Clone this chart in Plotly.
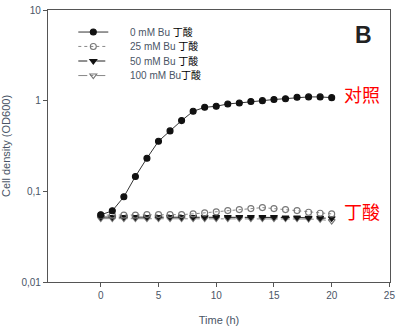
import math
import plotly.graph_objects as go

time_h = list(range(0, 21))
od_0mM = [0.055, 0.061, 0.087, 0.146, 0.232, 0.357, 0.464, 0.603, 0.763, 0.845, 0.867,
          0.92, 0.944, 0.98, 1.0, 1.03, 1.05, 1.09, 1.1, 1.1, 1.08]
od_25mM = [0.0546, 0.0546, 0.0546, 0.0546, 0.0554, 0.0554, 0.0554, 0.0554, 0.0564, 0.0578, 0.0593,
           0.0613, 0.0629, 0.0645, 0.0662, 0.0645, 0.0629, 0.0613, 0.0588, 0.0573, 0.0564]
od_50mM = [0.052, 0.052, 0.052, 0.052, 0.052, 0.052, 0.052, 0.052, 0.052, 0.052, 0.052,
           0.052, 0.052, 0.052, 0.052, 0.052, 0.0515, 0.0515, 0.051, 0.051, 0.0505]
od_100mM = [0.050, 0.050, 0.050, 0.050, 0.050, 0.050, 0.050, 0.050, 0.050, 0.050, 0.050,
            0.050, 0.050, 0.050, 0.050, 0.050, 0.050, 0.050, 0.0495, 0.049, 0.047]
series_names = ["0 mM Bu ", "25 mM Bu ", "50 mM Bu ", "100 mM Bu"]
cjk_suffix = "丁酸"
x_ticks = [0, 5, 10, 15, 20, 25]
y_ticks = [0.01, 0.1, 1, 10]
y_ticktext = ["0,01", "0,1", "1", "10"]
label_control = "对照"
label_butyrate = "丁酸"
label_control_y = 1.185
label_butyrate_y = 0.060
label_x = 20.9

TXT = "#4a5566"
CJK = "Noto Sans CJK SC"
PAD = "\u00a0" * 6

styles = [
    dict(dash="solid", symbol="circle", color="#111111", lc="#333333"),
    dict(dash="dot", symbol="circle-open", color="#777777", lc="#888888"),
    dict(dash="dash", symbol="triangle-down", color="#111111", lc="#222222"),
    dict(dash="dashdot", symbol="triangle-down-open", color="#777777", lc="#888888"),
]
data = [od_0mM, od_25mM, od_50mM, od_100mM]
legend_ids = ["legend", "legend2", "legend3", "legend4"]
legend_rows_y = [0.919, 0.866, 0.8125, 0.759]

fig = go.Figure()
for i in [3, 2, 1, 0]:
    s = styles[i]
    name = (f"<span style='color:{TXT}'>{PAD}{series_names[i]}</span>"
            f"<span style='color:black;font-family:{CJK};font-size:10px'>{cjk_suffix}</span>")
    fig.add_trace(go.Scatter(
        x=time_h, y=data[i], mode="lines+markers", name=name,
        line=dict(color=s["lc"], width=1, dash=s["dash"]),
        marker=dict(symbol=s["symbol"], size=6, color=s["color"],
                    line=dict(color=s["color"], width=1.1)),
        legend=legend_ids[i],
    ))

fig.add_annotation(x=label_x, y=math.log10(label_control_y), xref="x", yref="y", text=label_control,
                   showarrow=False, xanchor="left", yanchor="middle",
                   font=dict(family=CJK, size=18, color="#ff0000"))
fig.add_annotation(x=label_x, y=math.log10(label_butyrate_y), xref="x", yref="y", text=label_butyrate,
                   showarrow=False, xanchor="left", yanchor="middle",
                   font=dict(family=CJK, size=18, color="#ff0000"))
fig.add_annotation(x=0.922, y=0.908, xref="paper", yref="paper", text="<b>B</b>", showarrow=False,
                   xanchor="center", yanchor="middle",
                   font=dict(family="Liberation Sans", size=23, color="#222222"))

legend_common = dict(x=0.074, xanchor="left", yanchor="middle", bgcolor="rgba(0,0,0,0)",
                     font=dict(size=10, color=TXT), itemwidth=30)
legend_layout = {}
for lid, ly in zip(legend_ids, legend_rows_y):
    legend_layout[lid] = dict(y=ly, **legend_common)

fig.update_layout(
    width=399, height=331,
    margin=dict(l=48, r=9, t=10, b=49),
    paper_bgcolor="white", plot_bgcolor="white",
    separators=", ",
    font=dict(family="Liberation Sans", size=10, color=TXT),
    showlegend=True,
    xaxis=dict(range=[-4.57, 25.05], tickvals=x_ticks, ticks="outside", ticklen=4,
               tickcolor="#555555", showline=True, linecolor="#555555", linewidth=1.3,
               mirror=True, showgrid=False, zeroline=False, automargin=False,
               title=dict(text="Time (h)", font=dict(size=11, color=TXT), standoff=16),
               tickfont=dict(size=10, color=TXT)),
    yaxis=dict(type="log", range=[-2, 1], tickvals=y_ticks, ticktext=y_ticktext,
               ticks="outside", ticklen=4, tickcolor="#555555", showline=True,
               linecolor="#555555", linewidth=1.3, mirror=True, showgrid=False, zeroline=False,
               automargin=False,
               title=dict(text="Cell density (OD600)", font=dict(size=11, color=TXT), standoff=10),
               tickfont=dict(size=10, color=TXT)),
    **legend_layout,
)

fig.write_html("out.html")
